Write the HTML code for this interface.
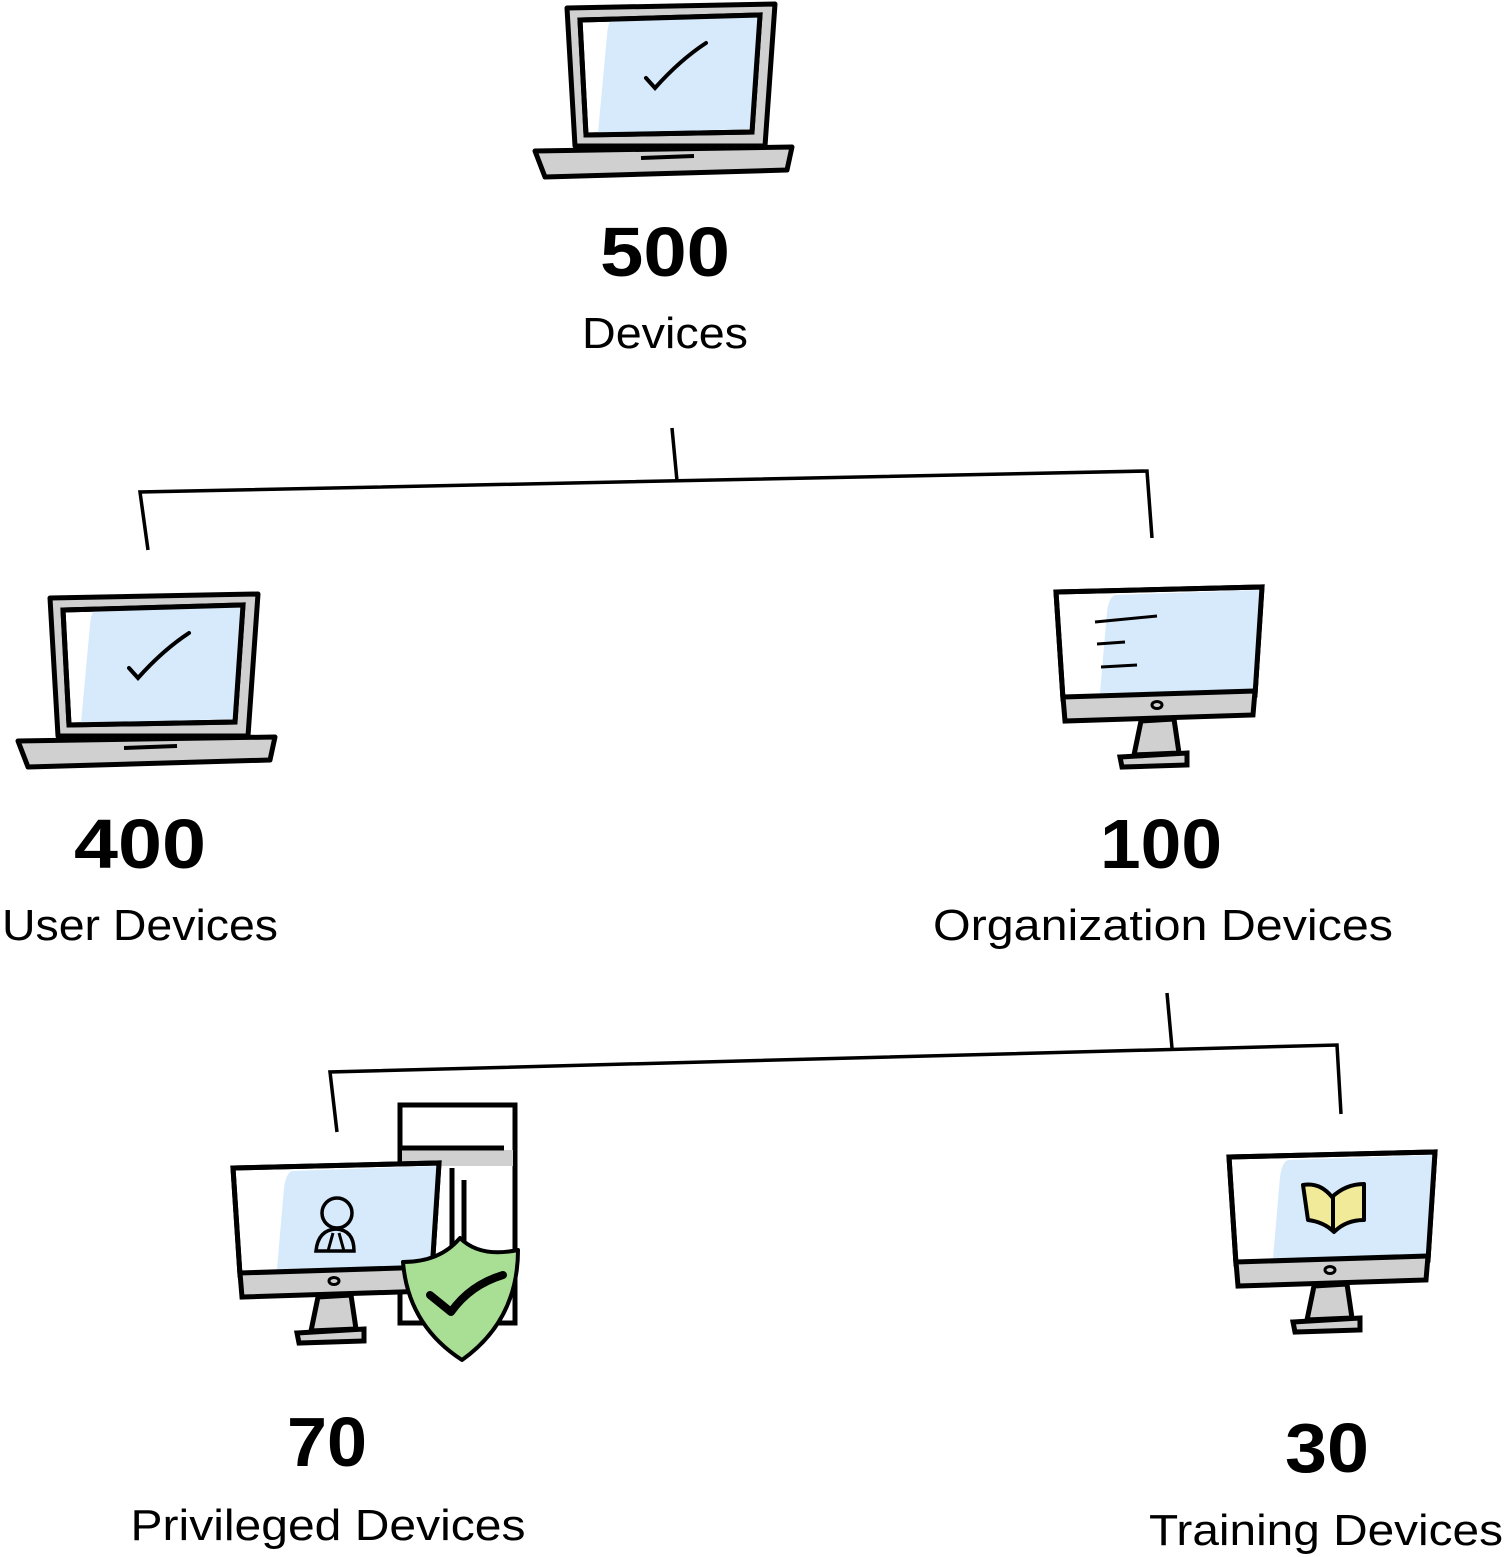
<!DOCTYPE html>
<html><head><meta charset="utf-8"><style>
html,body{margin:0;padding:0;background:#fff;}
svg{display:block;}
text{font-family:"Liberation Sans",sans-serif;fill:#000;}
.n{font-weight:bold;font-size:70px;text-anchor:middle;}
.l{font-size:44px;text-anchor:middle;}
</style></head><body>
<svg width="1507" height="1557" viewBox="0 0 1507 1557" xmlns="http://www.w3.org/2000/svg">
<defs>
<g id="laptop">
  <polygon points="567,8 775,4 765,146 575,146" fill="#d0d0d0" stroke="#000" stroke-width="5" stroke-linejoin="round"/>
  <polygon points="580,20 760,15 752,132 586,135" fill="#fff" stroke="#000" stroke-width="5"/>
  <path d="M612,20 L758,17 L750,129 L598,133 L607,35 Q608,22 612,20Z" fill="#d6eafc"/>
  <polygon points="580,20 760,15 752,132 586,135" fill="none" stroke="#000" stroke-width="5"/>
  <polygon points="535,151 792,147 787,170 545,177" fill="#d0d0d0" stroke="#000" stroke-width="5" stroke-linejoin="round"/>
  <line x1="641" y1="158" x2="694" y2="156" stroke="#000" stroke-width="4"/>
  <path d="M646,78 L655,88 Q680,60 706,43" fill="none" stroke="#000" stroke-width="4" stroke-linecap="round"/>
</g>
<g id="monitor">
  <polygon points="1,5 207,0 200,108 8,112" fill="#fff" stroke="#000" stroke-width="5"/>
  <path d="M60,8 L205,3 L199,104 L45,106 L52,25 Q54,10 60,8Z" fill="#d6eafc"/>
  <polygon points="1,5 207,0 200,108 8,112" fill="none" stroke="#000" stroke-width="5"/>
  <polygon points="8,110 200,104 198,128 10,134" fill="#d0d0d0" stroke="#000" stroke-width="5"/>
  <polygon points="86,134 119,132 124,166 79,168" fill="#d0d0d0" stroke="#000" stroke-width="5"/>
  <polygon points="65,170 132,166 132,178 67,180" fill="#d0d0d0" stroke="#000" stroke-width="5"/>
  <ellipse cx="102" cy="118" rx="5" ry="3.5" fill="none" stroke="#000" stroke-width="3"/>
</g>
</defs>

<use href="#laptop"/>
<use href="#laptop" transform="translate(-517,590)"/>

<g transform="translate(1055,587)"><use href="#monitor"/>
  <path d="M40,35 L102,29 M42,57 L70,55 M46,80 L82,78" stroke="#000" stroke-width="3" fill="none"/>
</g>
<g transform="translate(1228,1152)"><use href="#monitor"/>
  <path d="M75,33 Q92,30 104,45 Q118,32 136,32 L136,68 Q118,68 106,80 Q96,70 80,68Z" fill="#f1ea98" stroke="#000" stroke-width="4" stroke-linejoin="round"/>
  <line x1="105" y1="45" x2="105" y2="80" stroke="#000" stroke-width="4"/>
</g>

<rect x="400" y="1105" width="115" height="218" fill="#fff" stroke="#000" stroke-width="5"/>
<rect x="402" y="1150" width="111" height="16" fill="#d0d0d0"/>
<line x1="400" y1="1148" x2="504" y2="1148" stroke="#000" stroke-width="5"/>
<line x1="452" y1="1168" x2="452" y2="1323" stroke="#000" stroke-width="5"/>
<line x1="464" y1="1180" x2="464" y2="1320" stroke="#000" stroke-width="5"/>
<g transform="translate(232,1163)"><use href="#monitor"/>
  <circle cx="105" cy="50" r="15" fill="none" stroke="#000" stroke-width="3.5"/>
  <path d="M84,88 Q86,67 104,66 Q122,67 122,88Z" fill="none" stroke="#000" stroke-width="3.5"/>
  <path d="M101,70 L96,88 M107,70 L112,88" stroke="#000" stroke-width="3"/>
</g>
<path d="M460,1238 Q480,1258 518,1250 Q518,1320 462,1360 Q408,1325 403,1262 Q440,1262 460,1238Z" fill="#a9df95" stroke="#000" stroke-width="4" stroke-linejoin="round"/>
<path d="M430,1295 L451,1312 Q470,1285 503,1275" fill="none" stroke="#000" stroke-width="8" stroke-linecap="round" stroke-linejoin="round"/>

<g fill="none" stroke="#000" stroke-width="3.5">
<path d="M672,428 L677,481"/>
<path d="M148,550 L140,492 L1147,471 L1152,538"/>
<path d="M1167,993 L1172,1048"/>
<path d="M337,1132 L330,1072 L1337,1045 L1341,1114"/>
</g>

<text class="n" x="665" y="276" textLength="130" lengthAdjust="spacingAndGlyphs">500</text>
<text class="l" x="665" y="348" textLength="166" lengthAdjust="spacingAndGlyphs">Devices</text>
<text class="n" x="140" y="868" textLength="132" lengthAdjust="spacingAndGlyphs">400</text>
<text class="l" x="140" y="940" textLength="276" lengthAdjust="spacingAndGlyphs">User Devices</text>
<text class="n" x="1161" y="868" textLength="122" lengthAdjust="spacingAndGlyphs">100</text>
<text class="l" x="1163" y="940" textLength="460" lengthAdjust="spacingAndGlyphs">Organization Devices</text>
<text class="n" x="327" y="1466" textLength="80" lengthAdjust="spacingAndGlyphs">70</text>
<text class="l" x="328" y="1540" textLength="395" lengthAdjust="spacingAndGlyphs">Privileged Devices</text>
<text class="n" x="1327" y="1472" textLength="84" lengthAdjust="spacingAndGlyphs">30</text>
<text class="l" x="1326" y="1545" textLength="354" lengthAdjust="spacingAndGlyphs">Training Devices</text>
</svg>
</body></html>
